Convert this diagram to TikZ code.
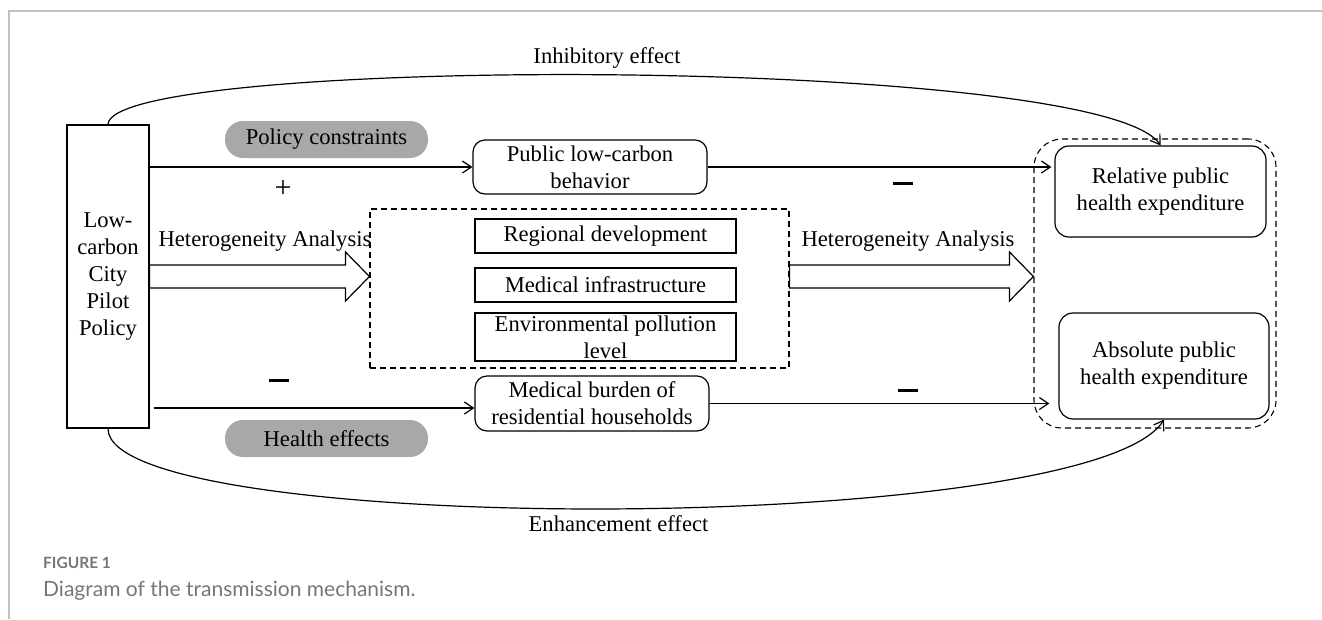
\documentclass[tikz,border=0pt]{standalone}
\usepackage{fontspec}
\setmainfont{Liberation Serif}
\newfontfamily\capfont{Lato}
\usetikzlibrary{arrows.meta,calc}

\definecolor{pillgray}{RGB}{170,167,167}
\definecolor{capgray}{RGB}{118,118,118}
\definecolor{framegray}{RGB}{192,192,192}

\tikzset{
  box/.style={draw, line width=1.2pt, align=center, inner sep=0pt, fill=white},
  rbox/.style={box, rounded corners=12pt},
  pill/.style={fill=pillgray, rounded corners=18pt, inner sep=0pt, minimum width=203pt, minimum height=37pt},
  dashbox/.style={draw, line width=1.1pt, dash pattern=on 6pt off 4pt, inner sep=0pt},
  conn/.style={line width=1.2pt, ->},
  fat/.style={line width=1.2pt, fill=white},
  sign/.style={inner sep=0pt}
}

\newcommand{\fatarrow}[2]{%
  \draw[fat] ($(#1)+(0,-11.5)$) -- ($(#2)+(-24,-11.5)$) -- ($(#2)+(-24,-24.5)$) -- (#2)
    -- ($(#2)+(-24,24.5)$) -- ($(#2)+(-24,11.5)$) -- ($(#1)+(0,11.5)$) -- cycle;}

\begin{document}
\begin{tikzpicture}[x=1pt,y=-1pt,>={Straight Barb[length=9pt,width=12pt]},font=\fontsize{22.6pt}{27pt}\selectfont]
\useasboundingbox (0,0) rectangle (1322,619);
\draw[framegray, line width=2pt] (9,619) -- (9,11) -- (1322,11);

\node[box, minimum width=82pt, minimum height=303pt] (policy) at (108,276.5) {Low-\\carbon\\City\\Pilot\\Policy};
\node[pill] (constr) at (326.5,139.5) {Policy constraints};
\node[pill] (health) at (326.5,438.5) {Health effects};
\node[rbox, minimum width=234pt, minimum height=54pt] (behav) at (590,167) {Public low-carbon\\behavior};
\node[rbox, minimum width=234pt, minimum height=55pt] (burden) at (592,403.5) {Medical burden of\\residential households};

\node[dashbox, minimum width=419pt, minimum height=159pt] (hetero) at (579.5,288.5) {};
\foreach \n/\y/\h/\txt in {regdev/236/34/{Regional development}, medinf/285/34/{Medical infrastructure}, envpol/337/48/{Environmental pollution\\level}}
  \node[box, minimum width=261pt, minimum height=\h pt] (\n) at (605.5,\y) {\txt};

\node[dashbox, rounded corners=28pt, minimum width=242pt, minimum height=289pt] (expend) at (1155,283.5) {};
\node[rbox, rounded corners=14pt, minimum width=211pt, minimum height=91pt] (rel) at (1160.5,191.5) {Relative public\\health expenditure};
\node[rbox, rounded corners=14pt, minimum width=210pt, minimum height=106pt] (abs) at (1164,366) {Absolute public\\health expenditure};

\draw[conn] (policy.east |- behav.west) -- (behav.west);
\draw[conn] ($(policy.east |- burden.west)+(4,4.5)$) -- ($(burden.west)+(0,4.5)$);
\draw[conn] (behav.east) -- ($(rel.west |- behav.east)+(-3,0)$);
\draw[conn] (burden.east) -- ($(abs.west |- burden.east)+(-9,0)$);

\fatarrow{policy.east}{hetero.west |- policy.east}
\fatarrow{hetero.east |- policy.east}{expend.west |- policy.east}

\draw[conn] (policy.north) .. controls (110,55) and (1100,55) .. (rel.north);
\draw[conn] (policy.south) .. controls (108,537) and (1090,537) .. (abs.south);

\node[font=\fontsize{30pt}{30pt}\selectfont] (plus) at (283,189) {+};
\node[sign] (minusA) at (903,183) {\rule{20pt}{3pt}};
\node[sign] (minusB) at (279,380) {\rule{20pt}{3pt}};
\node[sign] (minusC) at (908,390) {\rule{20pt}{3pt}};
\node (hetL) at (265,241) {Heterogeneity Analysis};
\node (hetR) at (908,241) {Heterogeneity Analysis};
\node (inhib) at (607,58) {Inhibitory effect};
\node (enhan) at (618.5,524) {Enhancement effect};

\node[anchor=west, text=capgray, font=\capfont\fontsize{15.5pt}{17pt}\selectfont\bfseries, inner sep=0pt] (fig) at (43,563) {FIGURE 1};
\node[anchor=west, text=capgray, font=\capfont\fontsize{21pt}{24pt}\selectfont, inner sep=0pt] (cap) at (43,591) {Diagram of the transmission mechanism.};
\end{tikzpicture}
\end{document}
